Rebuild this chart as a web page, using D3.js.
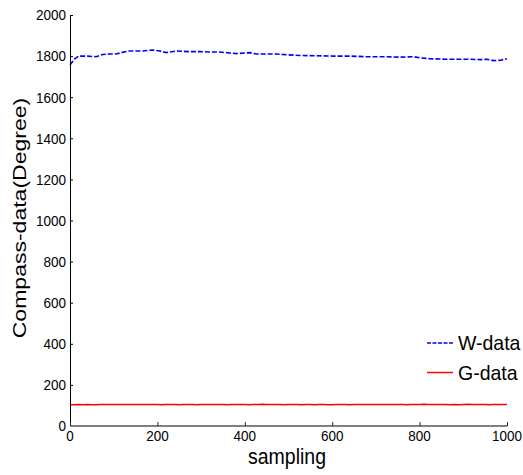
<!DOCTYPE html>
<html>
<head>
<meta charset="utf-8">
<script src="https://cdn.jsdelivr.net/npm/d3@7"></script>
<style>
  html, body { margin: 0; padding: 0; background: #fff; }
  text { font-family: "Liberation Sans", Arial, sans-serif; }
</style>
</head>
<body>
<svg id="chart" width="523" height="475"></svg>
<script>
// ---- data ----
const xTicks = [0, 200, 400, 600, 800, 1000];
const yTicks = [0, 200, 400, 600, 800, 1000, 1200, 1400, 1600, 1800, 2000];
const seriesNames = ["W-data", "G-data"];

const wSamples = [0, 10, 20, 40, 60, 75, 90, 105, 120, 136, 150, 166, 189, 205, 220, 243, 270, 297, 320, 343, 360, 381, 412, 427, 450, 473, 500, 526, 560, 602, 640, 679, 720, 756, 786, 800, 824, 862, 908, 940, 954, 969, 985, 1000];
const wValues  = [1757, 1785, 1800, 1800, 1797, 1808, 1810, 1810, 1818, 1825, 1825, 1825, 1830, 1825, 1817, 1825, 1822, 1822, 1820, 1820, 1816, 1812, 1817, 1810, 1810, 1810, 1806, 1803, 1802, 1800, 1800, 1797, 1797, 1795, 1797, 1792, 1787, 1785, 1785, 1783, 1785, 1778, 1780, 1787];

const gSamples = [0, 10, 20, 30, 40, 50, 60, 70, 80, 90, 100, 110, 120, 130, 140, 150, 160, 170, 180, 190, 200, 210, 220, 230, 240, 250, 260, 270, 280, 290, 300, 310, 320, 330, 340, 350, 360, 370, 380, 390, 400, 410, 420, 430, 440, 450, 460, 470, 480, 490, 500, 510, 520, 530, 540, 550, 560, 570, 580, 590, 600, 610, 620, 630, 640, 650, 660, 670, 680, 690, 700, 710, 720, 730, 740, 750, 760, 770, 780, 790, 800, 810, 820, 830, 840, 850, 860, 870, 880, 890, 900, 910, 920, 930, 940, 950, 960, 970, 980, 990, 1000];
const gValues  = [104, 103, 105, 104, 105, 103, 104, 105, 105, 105, 105, 105, 105, 105, 105, 105, 105, 105, 105, 105, 105, 104, 105, 105, 105, 104, 105, 105, 105, 104, 105, 105, 105, 105, 105, 105, 104, 105, 105, 105, 105, 104, 105, 105, 106, 105, 105, 105, 105, 104, 105, 105, 105, 104, 105, 105, 104, 105, 105, 103, 104, 105, 105, 105, 104, 105, 105, 105, 105, 105, 105, 105, 105, 105, 105, 105, 105, 104, 105, 105, 105, 106, 105, 105, 105, 105, 105, 104, 105, 104, 105, 106, 105, 105, 105, 105, 104, 105, 105, 105, 105];

// ---- layout ----
const svg = d3.select("#chart");
const x = d3.scaleLinear().domain([0, 1000]).range([70, 507]);
const y = d3.scaleLinear().domain([0, 2000]).range([426, 15]);

// plot lines
const wData = wSamples.map((s, i) => [s, wValues[i]]);
const gData = gSamples.map((s, i) => [s, gValues[i]]);
const line = d3.line().x(d => x(d[0])).y(d => y(d[1]));

svg.append("path").datum(gData)
  .attr("d", line).attr("fill", "none")
  .attr("stroke", "#ff0000").attr("stroke-width", 1.5);

svg.append("path").datum(wData)
  .attr("d", line).attr("fill", "none")
  .attr("stroke", "#0000ff").attr("stroke-width", 1.6)
  .attr("stroke-dasharray", "5,2");

// y axis
const yAxis = svg.append("g").attr("transform", "translate(70,0)")
  .call(d3.axisRight(y).tickValues(yTicks).tickSize(3).tickFormat(""));
yAxis.select(".domain").attr("stroke", "#000").attr("d", `M0.5,${y(2000)}V${y(0)}`);
yAxis.selectAll(".tick line").attr("stroke", "#000");

yTicks.forEach(t => {
  svg.append("text")
    .attr("transform", `translate(66,${y(t)}) scale(1,1.1)`)
    .attr("text-anchor", "end").attr("dy", "0.36em")
    .attr("font-size", 13.5).attr("fill", "#000")
    .text(t);
});

// x axis
const xAxis = svg.append("g").attr("transform", `translate(0,${y(0)})`)
  .call(d3.axisTop(x).tickValues(xTicks).tickSize(4).tickFormat(""));
xAxis.select(".domain").attr("stroke", "#808080").attr("stroke-width", 2)
  .attr("d", `M${x(0)},0H${x(1000)}`);
xAxis.selectAll(".tick line").attr("stroke", "#222");

xTicks.forEach(t => {
  svg.append("text")
    .attr("transform", `translate(${x(t)},441) scale(1,1.1)`)
    .attr("text-anchor", "middle")
    .attr("font-size", 13.5).attr("fill", "#000")
    .text(t);
});

// axis labels
svg.append("text")
  .attr("transform", "translate(287,464) scale(1,1.15)")
  .attr("text-anchor", "middle").attr("font-size", 19.5).attr("fill", "#000")
  .text("sampling");

svg.append("text")
  .attr("transform", "translate(26,218) rotate(-90) scale(1.28,1)")
  .attr("text-anchor", "middle").attr("font-size", 18).attr("fill", "#000")
  .text("Compass-data(Degree)");

// legend
const legendY = [343, 372.5];
const legendColors = ["#0000ff", "#ff0000"];
const legendDash = ["4,1.5", null];
seriesNames.forEach((name, i) => {
  svg.append("line")
    .attr("x1", 427).attr("x2", 453).attr("y1", legendY[i]).attr("y2", legendY[i])
    .attr("stroke", legendColors[i]).attr("stroke-width", 1.5)
    .attr("stroke-dasharray", legendDash[i]);
  svg.append("text")
    .attr("transform", `translate(458,${legendY[i] + 7}) scale(1,1.08)`)
    .attr("font-size", 19.5).attr("fill", "#000")
    .text(name);
});
</script>
</body>
</html>
